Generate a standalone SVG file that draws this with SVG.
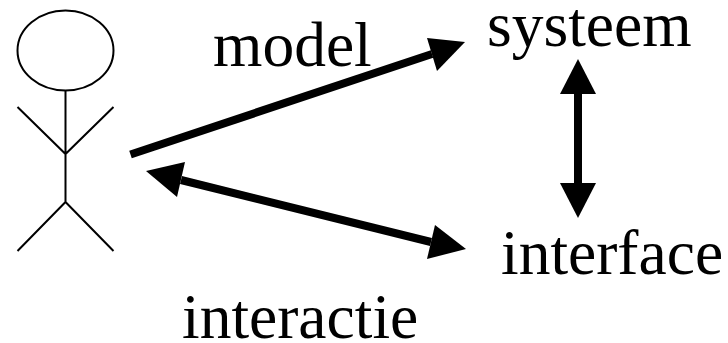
<svg xmlns="http://www.w3.org/2000/svg" width="728" height="343" viewBox="0 0 728 343">
<style>
text{font-family:"Liberation Serif","Times New Roman",serif;font-size:63.5px;fill:#000}
.thin{stroke:#000;stroke-width:2;fill:none}
.thick{stroke:#000;stroke-width:8;fill:none}
.head{fill:#000;stroke:none}
</style>
<rect width="728" height="343" fill="#fff"/>
<g id="actor">
<ellipse class="thin" cx="65.5" cy="50.5" rx="48" ry="40"/>
<path class="thin" d="M65.5 90V202M17.5 107L65.5 154L113.5 107M17.5 251L65.5 202L113.5 251"/>
</g>
<g id="connectors">
<path class="thick" d="M130.5 154.5L432 54"/>
<polygon class="head" points="465,42 427,38 437,71"/>
<path class="thick" d="M181 180L431 242"/>
<polygon class="head" points="146,171 185,162 177,197"/>
<polygon class="head" points="466,249 435,225 427,259"/>
<path class="thick" d="M578 94V183"/>
<polygon class="head" points="578,59 560,94 596,94"/>
<polygon class="head" points="578,218 560,183 596,183"/>
</g>
<g id="model"><text x="213" y="66">model</text></g>
<g id="systeem"><text x="487" y="46">systeem</text></g>
<g id="interface"><text x="501" y="274">interface</text></g>
<g id="interactie"><text x="182" y="338">interactie</text></g>
</svg>
